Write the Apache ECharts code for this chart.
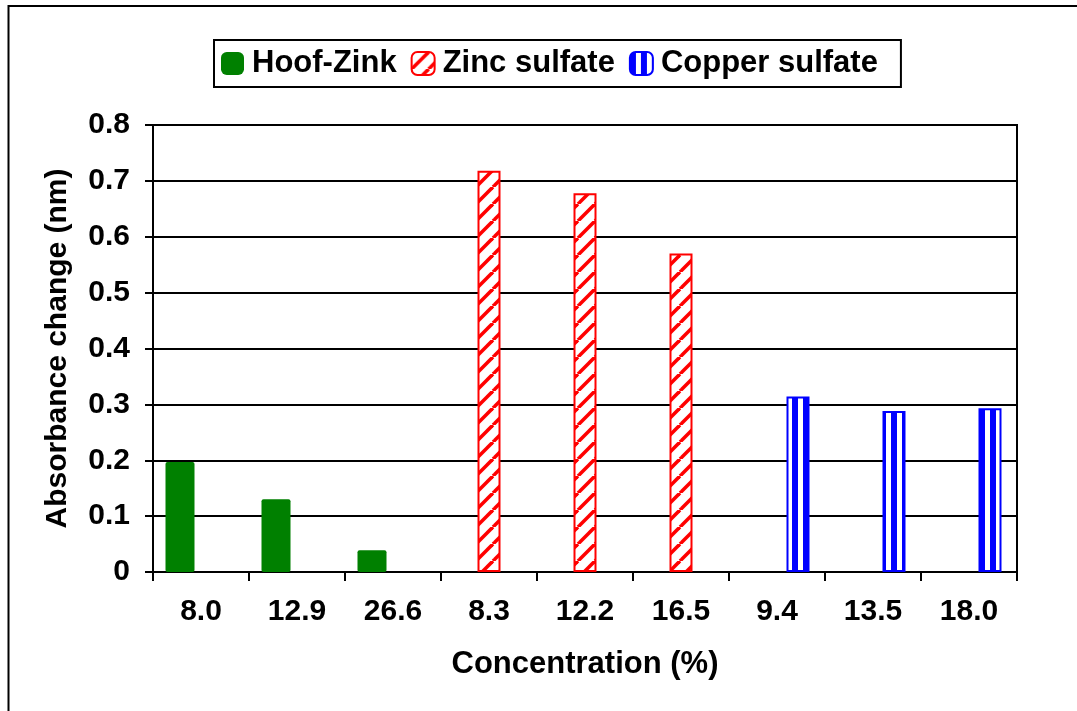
<!DOCTYPE html>
<html>
<head>
<meta charset="utf-8">
<script src="https://cdn.jsdelivr.net/npm/echarts@6/dist/echarts.min.js"></script>
<style>
html,body{margin:0;padding:0;background:#fff;}
#chart{width:1077px;height:711px;}
</style>
</head>
<body>
<div id="chart"></div>
<script>
// ---- data ----
const categories = ['8.0', '12.9', '26.6', '8.3', '12.2', '16.5', '9.4', '13.5', '18.0'];
const hoofZink = [0.197, 0.13, 0.039, '-', '-', '-', '-', '-', '-'];
const zincSulfate = ['-', '-', '-', 0.718, 0.678, 0.57, '-', '-', '-'];
const copperSulfate = ['-', '-', '-', '-', '-', '-', 0.314, 0.288, 0.293];
const seriesNames = ['Hoof-Zink', 'Zinc sulfate', 'Copper sulfate'];
const yTicks = { min: 0, max: 0.8, interval: 0.1 };

// ---- patterns ----
function diagPattern() {
  const s = 17;
  const c = document.createElement('canvas');
  c.width = s; c.height = s;
  const g = c.getContext('2d');
  g.fillStyle = '#fff'; g.fillRect(0, 0, s, s);
  g.strokeStyle = '#ff0000'; g.lineWidth = 3.6;
  for (const k of [-s, 0, s]) {
    g.beginPath(); g.moveTo(k, s); g.lineTo(k + s, 0); g.stroke();
  }
  return c;
}
function vertPattern() {
  const c = document.createElement('canvas');
  c.width = 11; c.height = 4;
  const g = c.getContext('2d');
  g.fillStyle = '#fff'; g.fillRect(0, 0, 11, 4);
  g.fillStyle = '#0000ff'; g.fillRect(0, 0, 6, 4);
  return c;
}

const FONT = 'Liberation Sans, Arial, sans-serif';
const chart = echarts.init(document.getElementById('chart'), null, { renderer: 'canvas' });

const option = {
  animation: false,
  backgroundColor: '#fff',
  graphic: [{
    type: 'rect',
    shape: { x: 8.5, y: 6, width: 3000, height: 3000 },
    style: { fill: 'none', stroke: '#000', lineWidth: 2 },
    silent: true
  }],
  legend: {
    data: seriesNames,
    left: 214,
    top: 40,
    padding: [8, 23, 8, 7],
    borderColor: '#000',
    borderWidth: 2,
    itemWidth: 23,
    itemHeight: 23,
    itemGap: 14,
    textStyle: { fontFamily: FONT, fontWeight: 'bold', fontSize: 31, color: '#000', lineHeight: 31, padding: [0, 0, 0, 3] }
  },
  grid: {
    left: 153, right: 60, top: 125, bottom: 139,
    show: true, borderColor: '#000', borderWidth: 2, backgroundColor: 'transparent'
  },
  xAxis: [{
    type: 'category',
    data: categories,
    name: 'Concentration (%)',
    nameLocation: 'middle',
    nameGap: 77,
    nameTextStyle: { fontFamily: FONT, fontWeight: 'bold', fontSize: 31, color: '#000' },
    axisLine: { lineStyle: { color: '#000', width: 2 } },
    axisTick: { show: true, length: 9, lineStyle: { color: '#000', width: 2 } },
    axisLabel: { margin: 25, fontFamily: FONT, fontWeight: 'bold', fontSize: 30, color: '#000' },
    splitLine: { show: false }
  }, {
    type: 'category',
    data: categories,
    show: false
  }],
  yAxis: {
    type: 'value',
    min: yTicks.min, max: yTicks.max, interval: yTicks.interval,
    name: 'Absorbance change (nm)',
    nameLocation: 'middle',
    nameGap: 80,
    nameTextStyle: { fontFamily: FONT, fontWeight: 'bold', fontSize: 30, color: '#000' },
    axisLine: { show: true, lineStyle: { color: '#000', width: 2 } },
    axisTick: { show: true, length: 8, lineStyle: { color: '#000', width: 2 } },
    axisLabel: {
      margin: 23, fontFamily: FONT, fontWeight: 'bold', fontSize: 30, color: '#000',
      formatter: v => (v === 0 ? '0' : v.toFixed(1))
    },
    splitLine: { show: true, lineStyle: { color: '#000', width: 2 } }
  },
  series: [
    { name: '_phA', type: 'bar', xAxisIndex: 0, data: [], barWidth: 23, barGap: '-8.7%', silent: true },
    {
      name: seriesNames[1], type: 'bar', xAxisIndex: 0, data: zincSulfate, barWidth: 23, barGap: '-8.7%',
      itemStyle: { color: { image: diagPattern(), repeat: 'repeat' }, borderColor: '#ff0000', borderWidth: 2 }
    },
    {
      name: seriesNames[2], type: 'bar', xAxisIndex: 0, data: copperSulfate, barWidth: 23, barGap: '-8.7%',
      itemStyle: { color: { image: vertPattern(), repeat: 'repeat' }, borderColor: '#0000ff', borderWidth: 2 }
    },
    {
      name: seriesNames[0], type: 'bar', xAxisIndex: 1, data: hoofZink, barWidth: 29, barGap: '0%',
      itemStyle: { color: '#008000', borderRadius: 2 }
    },
    { name: '_phB', type: 'bar', xAxisIndex: 1, data: [], barWidth: 42, barGap: '0%', silent: true }
  ]
};
chart.setOption(option);
</script>
</body>
</html>
